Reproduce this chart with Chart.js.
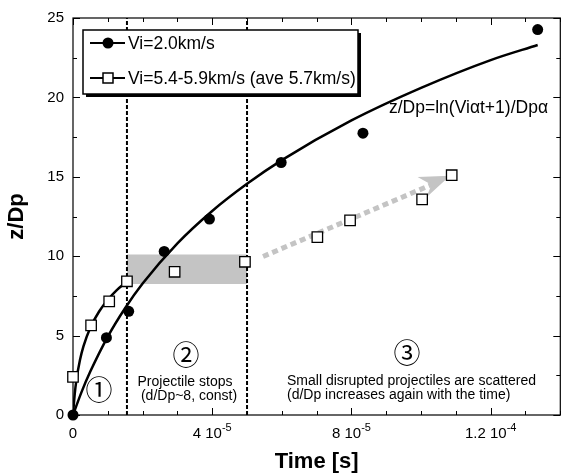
<!DOCTYPE html>
<html>
<head>
<meta charset="utf-8">
<script src="https://cdn.jsdelivr.net/npm/chart.js@4.4.1/dist/chart.umd.min.js"></script>
<style>
  html, body { margin: 0; padding: 0; background: #fff; }
  #wrap { width: 569px; height: 476px; }
</style>
</head>
<body>
<div id="wrap"><canvas id="chart" width="569" height="476"></canvas></div>
<script>
// measured points (time in s, penetration depth z/Dp)
const slowTime = [0, 0.96e-5, 1.6e-5, 2.62e-5, 3.92e-5, 5.98e-5, 8.33e-5, 13.35e-5];
const slowDepth = [0, 4.87, 6.53, 10.3, 12.34, 15.9, 17.75, 24.27];
const fastTime = [0, 0.52e-5, 1.04e-5, 1.55e-5, 2.92e-5, 4.94e-5, 7.02e-5, 7.96e-5, 10.03e-5, 10.88e-5];
const fastDepth = [2.4, 5.64, 7.16, 8.42, 9.02, 9.65, 11.2, 12.26, 13.58, 15.1];

// fit curves
const slowFitTime = [0, 0.25e-5, 0.5e-5, 1e-5, 1.5e-5, 2e-5, 3e-5, 4e-5, 5e-5, 6e-5, 8e-5, 10e-5, 12e-5, 13.35e-5];
const slowFitDepth = [0, 1.47, 2.75, 4.94, 6.74, 8.28, 10.81, 12.85, 14.56, 16.05, 18.55, 20.6, 22.35, 23.3];
const fastFitTime = [0, 0.05e-5, 0.1e-5, 0.2e-5, 0.3e-5, 0.5e-5, 0.75e-5, 1e-5, 1.25e-5, 1.55e-5];
const fastFitDepth = [0, 1.33, 2.23, 3.46, 4.32, 5.51, 6.52, 7.26, 7.85, 8.42];

// phase boundaries, grey band, grey arrow
const phaseTimes = [1.55e-5, 5.0e-5];
const bandTime = [1.55e-5, 5.0e-5];
const bandTop = 10.1;
const bandBottom = 8.25;
const arrowTime = [5.46e-5, 10.36e-5];
const arrowDepth = [9.98, 14.56];
const headTime = [9.9e-5, 10.83e-5, 10.15e-5, 10.3e-5];
const headDepth = [14.98, 15.06, 13.7, 14.5];

// x tick labels
const xTickValues = [0, 4e-5, 8e-5, 1.2e-4];
const xTickMant = ['0', '4', '8', '1.2'];
const xTickExp = [null, '-5', '-5', '-4'];

const FONT = '"Liberation Sans", Arial, Helvetica, sans-serif';
const GREY = '#c4c4c4';

const pts = (xs, ys) => xs.map((v, i) => ({ x: v, y: ys[i] }));

const frame = {
  id: 'frame',
  beforeDatasetsDraw(chart) {
    const { ctx, chartArea: a, scales: { x, y } } = chart;
    ctx.save();
    // arrow head
    ctx.fillStyle = GREY;
    ctx.beginPath();
    headTime.forEach((t, i) => {
      const px = x.getPixelForValue(t), py = y.getPixelForValue(headDepth[i]);
      if (i) ctx.lineTo(px, py); else ctx.moveTo(px, py);
    });
    ctx.closePath();
    ctx.fill();

    ctx.strokeStyle = '#000';
    ctx.lineWidth = 1.2;
    ctx.strokeRect(a.left, a.top, a.right - a.left, a.bottom - a.top);
    ctx.lineWidth = 1;
    const seg = (x1, y1, x2, y2) => { ctx.beginPath(); ctx.moveTo(x1, y1); ctx.lineTo(x2, y2); ctx.stroke(); };
    x.ticks.forEach(t => {
      const px = Math.round(x.getPixelForValue(t.value)) + 0.5;
      const q = t.value / 4e-5;
      const len = Math.abs(q - Math.round(q)) < 1e-6 ? 7 : 4;
      seg(px, a.bottom, px, a.bottom - len);
      seg(px, a.top, px, a.top + len);
    });
    y.ticks.forEach(t => {
      const py = Math.round(y.getPixelForValue(t.value)) + 0.5;
      const len = t.value % 5 === 0 ? 7 : 4;
      seg(a.left, py, a.left + len, py);
      seg(a.right, py, a.right - len, py);
    });
    ctx.restore();
  },
  afterDatasetsDraw(chart) {
    const { ctx, chartArea: a, scales: { x } } = chart;
    ctx.save();
    ctx.fillStyle = '#000';
    // x tick labels with exponent
    xTickValues.forEach((v, i) => {
      const px = x.getPixelForValue(v);
      ctx.textBaseline = 'alphabetic';
      ctx.textAlign = 'left';
      ctx.font = '15px ' + FONT;
      const base = xTickExp[i] ? xTickMant[i] + ' 10' : xTickMant[i];
      const w1 = ctx.measureText(base).width;
      ctx.font = '11px ' + FONT;
      const w2 = xTickExp[i] ? ctx.measureText(xTickExp[i]).width : 0;
      const start = px - (w1 + w2) / 2;
      ctx.font = '15px ' + FONT;
      ctx.fillText(base, start, a.bottom + 23);
      if (xTickExp[i]) {
        ctx.font = '11px ' + FONT;
        ctx.fillText(xTickExp[i], start + w1, a.bottom + 16);
      }
    });

    // legend box
    const lx = 83, ly = 30, lw = 275, lh = 64;
    ctx.fillStyle = '#000';
    ctx.fillRect(lx + 3, ly + 3, lw, lh);
    ctx.fillStyle = '#fff';
    ctx.fillRect(lx, ly, lw, lh);
    ctx.strokeStyle = '#000';
    ctx.lineWidth = 1.5;
    ctx.strokeRect(lx, ly, lw, lh);
    ctx.lineWidth = 2;
    [43, 78].forEach((yy, i) => {
      ctx.beginPath(); ctx.moveTo(90, yy); ctx.lineTo(125, yy); ctx.stroke();
      if (i === 0) {
        ctx.fillStyle = '#000';
        ctx.beginPath(); ctx.arc(108, yy, 5.5, 0, Math.PI * 2); ctx.fill();
      } else {
        ctx.fillStyle = '#fff';
        ctx.lineWidth = 1.5;
        ctx.fillRect(103, yy - 5, 10, 10);
        ctx.strokeRect(103, yy - 5, 10, 10);
      }
    });
    ctx.fillStyle = '#000';
    ctx.font = '17.5px ' + FONT;
    ctx.textAlign = 'left';
    ctx.textBaseline = 'middle';
    ctx.fillText('Vi=2.0km/s', 128, 44);
    ctx.fillText('Vi=5.4-5.9km/s (ave 5.7km/s)', 128, 79);
    ctx.fillText('z/Dp=ln(Vi\u03B1t+1)/Dp\u03B1', 389, 108);

    // phase annotations
    ctx.font = '27px "Noto Sans CJK JP", "DejaVu Sans", sans-serif';
    ctx.textAlign = 'center';
    ctx.fillText('\u2460', 99, 390);
    ctx.fillText('\u2461', 186, 355);
    ctx.fillText('\u2462', 407, 353);
    ctx.font = '14px ' + FONT;
    ctx.fillText('Projectile stops', 185, 382);
    ctx.fillText('(d/Dp~8, const)', 189, 396);
    ctx.textAlign = 'left';
    ctx.fillText('Small disrupted projectiles are scattered', 287, 381);
    ctx.fillText('(d/Dp increases again with the time)', 287, 395);
    ctx.restore();
  }
};

new Chart(document.getElementById('chart'), {
  type: 'scatter',
  data: {
    datasets: [
      {
        label: 'Vi=5.4-5.9km/s (ave 5.7km/s)',
        data: pts(fastTime, fastDepth),
        pointStyle: 'rect', pointRadius: 7.4, pointBackgroundColor: '#fff',
        pointBorderColor: '#000', pointBorderWidth: 1.3, showLine: false, clip: false, order: 1
      },
      {
        label: 'Vi=2.0km/s',
        data: pts(slowTime, slowDepth),
        pointStyle: 'circle', pointRadius: 5.5, pointBackgroundColor: '#000',
        pointBorderColor: '#000', pointBorderWidth: 0, showLine: false, clip: false, order: 2
      },
      {
        data: pts(slowFitTime, slowFitDepth), showLine: true, pointRadius: 0,
        borderColor: '#000', borderWidth: 2.5, tension: 0.4, cubicInterpolationMode: 'monotone', order: 3
      },
      {
        data: pts(fastFitTime, fastFitDepth), showLine: true, pointRadius: 0,
        borderColor: '#000', borderWidth: 2.5, tension: 0.4, cubicInterpolationMode: 'monotone', order: 4
      },
      ...phaseTimes.map((t, i) => ({
        data: [{ x: t, y: 0 }, { x: t, y: 25 }], showLine: true, pointRadius: 0,
        borderColor: '#000', borderWidth: 2, borderDash: [4, 2], borderCapStyle: 'butt', order: 5 + i
      })),
      {
        data: pts(bandTime, [bandTop, bandTop]), showLine: true, pointRadius: 0,
        borderWidth: 0, borderColor: 'rgba(0,0,0,0)', backgroundColor: GREY,
        fill: { value: bandBottom }, order: 8
      },
      {
        data: pts(arrowTime, arrowDepth), showLine: true, pointRadius: 0,
        borderColor: GREY, borderWidth: 5, borderDash: [6, 4], borderCapStyle: 'butt', order: 9
      }
    ]
  },
  options: {
    responsive: false,
    animation: false,
    devicePixelRatio: 1,
    layout: { padding: { top: 16, right: 1, left: 0, bottom: 0 } },
    plugins: { legend: { display: false }, tooltip: { enabled: false } },
    scales: {
      x: {
        type: 'linear', min: 0, max: 1.4e-4,
        ticks: { display: false, stepSize: 1e-5 },
        grid: { display: false, drawTicks: false },
        border: { display: false },
        title: { display: true, text: 'Time [s]', color: '#000', font: { family: FONT, size: 22, weight: 'bold' }, padding: { top: 4, bottom: 1 } },
        afterFit: s => { s.height = 61; }
      },
      y: {
        min: 0, max: 25,
        ticks: {
          stepSize: 2.5, color: '#000', padding: 9, font: { family: FONT, size: 15 },
          callback: v => (v % 5 === 0 ? String(v) : '')
        },
        grid: { display: false, drawTicks: false },
        border: { display: false },
        title: { display: true, text: 'z/Dp', color: '#000', font: { family: FONT, size: 22, weight: 'bold' }, padding: { top: 4, bottom: 4 } },
        afterFit: s => { s.width = 73; }
      }
    }
  },
  plugins: [frame]
});
</script>
</body>
</html>
